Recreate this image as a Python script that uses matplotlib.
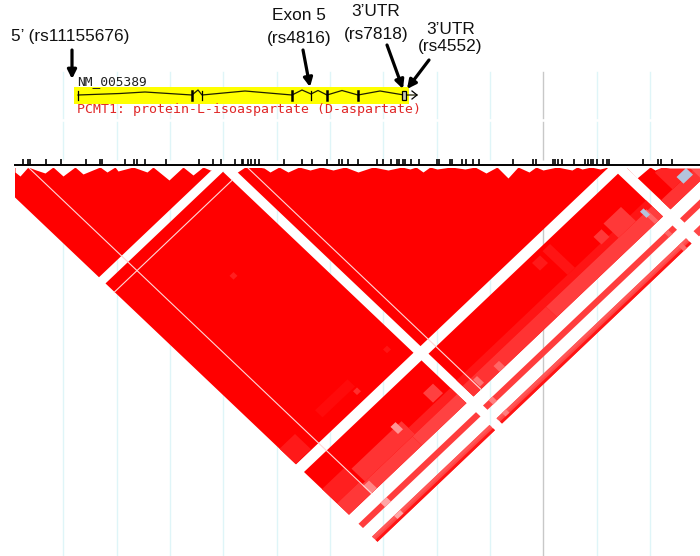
import matplotlib
matplotlib.use("Agg")
import matplotlib.pyplot as plt
from matplotlib.patches import Polygon, Rectangle

plt.rcParams['font.family'] = ['Liberation Sans', 'DejaVu Sans']

# marker ticks along the top of the LD plot
tick_x = [23, 28, 30, 46, 61, 86, 100, 102, 125, 134, 137, 145, 166, 199, 213, 221, 235, 242, 243,
          248, 251, 255, 259, 284, 302, 312, 327, 339, 342, 348, 358, 377, 383, 391, 397, 399, 403,
          405, 411, 419, 437, 439, 450, 452, 462, 466, 473, 479, 513, 533, 536, 553, 555, 558, 562,
          574, 585, 588, 591, 593, 597, 603, 607, 609, 643, 658, 661, 672]

grid_x = [63, 117, 170, 223, 277, 330, 383, 437, 490, 597, 650]
gray_x = [543]

# sawtooth top edge of the triangles
top_x = [15, 20, 28, 36, 45, 53, 63, 75, 83, 100, 107, 115, 118, 133, 147, 153, 169, 183, 193, 203, 210,
         222, 233, 245, 258, 264, 270, 279, 288, 299, 310, 321, 333, 345, 358, 373, 388, 402, 410, 416, 423,
         430, 437, 451, 465, 475, 486, 497, 508, 518, 529, 536, 543, 557, 572, 577, 582, 591, 600, 608,
         627, 637, 650, 655, 662, 670, 700]
top_y = [172, 176, 167, 170, 173, 167, 176, 167, 174, 167, 172, 167, 171, 167, 172, 167, 180, 167, 175, 167, 170,
         170, 175, 167, 167, 168, 172, 167, 172, 167, 170, 167, 170, 167, 172, 167, 170, 167, 169, 167, 172,
         167, 169, 167, 169, 167, 173, 167, 178, 167, 172, 167, 170, 167, 170, 167, 169, 167, 169, 167,
         168, 178, 167, 170, 167, 168, 168]

# LD blocks: left marker range, right marker range, D' shade
block_u0 = [-16, -16, 233, -16, 233, 627, -16, 233, 627, -16, 233, 627]
block_u1 = [219, 219, 612, 219, 612, 720, 219, 612, 720, 219, 612, 720]
block_v0 = [-16, 227, 233, 624, 624, 627, 733, 733, 733, 760, 760, 760]
block_v1 = [214, 608, 608, 714, 714, 714, 742, 742, 742, 771, 771, 771]
block_ld = [1, 1, 1, 1, 1, 1, .76, .76, .76, .72, .72, .72]

# lighter cells inside the blocks
cell_u0 = [-16, 60, 116, 118, 192, -16, 135, -16, 28, 35, 130, 186, 118, 28, 233, 233, 400, 455, 545, 521, 432,
           627, 650, 690, 250, 285, -16, 233, -16, 233, 28, 28, 244, 244, 596, 596, 596]
cell_u1 = [15, 125, 124, 126, 200, 28, 219, 28, 130, 135, 219, 206, 128, 40, 612, 400, 612, 470, 580, 537, 448,
           720, 720, 720, 258, 296, 219, 612, 219, 612, 40, 40, 252, 252, 603, 603, 603]
cell_v0 = [575, 570, 343, 588, 574, 660, 682, 690, 695, 668, 695, 660, 663, 698, 680, 692, 692, 630, 662, 666, 632,
           695, 660, 680, 696, 702, 767, 767, 760, 760, 733, 760, 733, 760, 690, 733, 760]
cell_v1 = [607, 585, 351, 596, 582, 690, 695, 714, 714, 695, 714, 680, 678, 714, 692, 714, 714, 680, 692, 682, 648,
           714, 695, 714, 710, 714, 771, 771, 764, 764, 742, 767, 742, 767, 714, 742, 771]
cell_ld = [.9, .96, .88, .82, .92, .88, .88, .78, .76, .8, .74, .75, .42, .48, .92, .8, .76, .92, .78, .78, .9,
           .8, .86, .68, .55, .6, .92, .92, .66, .66, .35, .35, .5, .5, .6, .6, .6]

# cells with no significant LD (drawn blue-grey)
blue_u0 = [667, 594]
blue_u1 = [686, 601]
blue_v0 = [686, 686]
blue_v1 = [700, 699]

# thin white lines: left marker / right marker
line_u = [29, 248]
line_u_v0 = [29, 248]
line_u_v1 = [714, 714]
line_v = [245]
line_v_u0 = [-16]
line_v_u1 = [219]

# gene model
gene_x = [78, 120, 145, 192, 198, 202, 245, 292, 302, 311, 318, 327, 342, 358, 380, 404, 417]
gene_y = [95, 93.5, 92, 95, 90, 95, 91, 95, 90, 94, 90.5, 95, 90.5, 95, 91, 95, 95]
exon_x = [78, 192, 202, 292, 311, 327, 358]
exon_w = [.9, 1.8, .9, 1.8, .9, 1.8, 1.8]

# label, x, y
label_txt = ["5\u2019 (rs11155676)", "Exon 5", "(rs4816)", "3\u2019UTR", "(rs7818)", "3\u2019UTR", "(rs4552)"]
label_x = [70, 299, 299, 376, 376, 451, 450]
label_y = [37, 16, 38, 12, 34, 29, 47]

# arrow tail x, y, head x, y
arrow_x0 = [72, 303, 387, 429]
arrow_y0 = [50, 50, 45, 60]
arrow_x1 = [72, 310, 403, 407]
arrow_y1 = [79, 87, 89, 89]

Y0 = 168
S = 0.95


def diamond(u0, u1, v0, v1):
    # corners of a block in picture coordinates, cut at the u=v diagonal
    pts = [(u0, max(v0, u0)), (u0, v1), (u1, v1), (u1, max(v0, u1))]
    if v0 > u0 and v0 < u1:
        pts = [(u0, v0), (u0, v1), (u1, v1), (u1, u1), (v0, v0)]
    elif v0 < u1:
        pts = [(u0, u0), (u0, v1), (min(u1, v1), v1)]
        if u1 < v1:
            pts = [(u0, max(v0, u0)), (u0, v1), (u1, v1), (u1, max(v0, u1))]
    return [((u + v) / 2, Y0 + S * (v - u) / 2) for u, v in pts]


def ld_color(ld):
    c = 1 - ld
    return (1, c, c)


fig = plt.figure(figsize=(7, 5.56), dpi=100)
ax = fig.add_axes([0, 0, 1, 1])
ax.set_xlim(0, 700)
ax.set_ylim(556, 0)
ax.axis('off')

# background grid, broken just under the gene track
for x in grid_x:
    ax.plot([x, x], [72, 118], color='#dff5f8', lw=1, zorder=1)
    ax.plot([x, x], [122, 556], color='#dff5f8', lw=1, zorder=1)
for x in gray_x:
    ax.plot([x, x], [72, 118], color='#c8c8c8', lw=1, zorder=1)
    ax.plot([x, x], [122, 556], color='#c8c8c8', lw=1, zorder=1)

clip = Rectangle((15, 160), 685, 396, transform=ax.transData)

for i in range(len(block_ld)):
    p = Polygon(diamond(block_u0[i], block_u1[i], block_v0[i], block_v1[i]),
                fc=ld_color(block_ld[i]), ec='none', zorder=2)
    ax.add_patch(p)
    p.set_clip_path(clip)
for i in range(len(cell_ld)):
    p = Polygon(diamond(cell_u0[i], cell_u1[i], cell_v0[i], cell_v1[i]),
                fc=ld_color(cell_ld[i]), ec='none', zorder=3)
    ax.add_patch(p)
    p.set_clip_path(clip)
for i in range(len(blue_u0)):
    p = Polygon(diamond(blue_u0[i], blue_u1[i], blue_v0[i], blue_v1[i]),
                fc='#b4c4dc', ec='none', zorder=4)
    ax.add_patch(p)
    p.set_clip_path(clip)

# thin white marker lines
for i in range(len(line_u)):
    xs = [(line_u[i] + line_u_v0[i]) / 2, (line_u[i] + line_u_v1[i]) / 2]
    ys = [Y0 + S * (line_u_v0[i] - line_u[i]) / 2, Y0 + S * (line_u_v1[i] - line_u[i]) / 2]
    ax.plot(xs, ys, color='#ffd8d8', lw=0.8, zorder=5)
for i in range(len(line_v)):
    xs = [(line_v_u0[i] + line_v[i]) / 2, (line_v_u1[i] + line_v[i]) / 2]
    ys = [Y0 + S * (line_v[i] - line_v_u0[i]) / 2, Y0 + S * (line_v[i] - line_v_u1[i]) / 2]
    ax.plot(xs, ys, color='#ffd8d8', lw=0.8, zorder=5)

# white mask above the sawtooth, then baseline and ticks
ax.fill_between(top_x, 160, top_y, color='white', lw=0, zorder=6)
ax.plot([15, 700], [165, 165], color='black', lw=1.4, zorder=7)
ax.vlines(tick_x, 159, 165, color='black', lw=1.2, zorder=7)

# gene track
ax.add_patch(Rectangle((74, 87), 335, 17, fc='#ffff00', ec='none', zorder=2))
ax.plot(gene_x, gene_y, color='#202000', lw=0.9, zorder=3)
for x, w in zip(exon_x, exon_w):
    ax.plot([x, x], [90.5, 100], color='black', lw=w, zorder=4)
ax.add_patch(Rectangle((402, 91), 4, 9, fc='#c8c8b0', ec='black', lw=0.9, zorder=4))
ax.plot([412, 417, 412], [91, 95, 99], color='black', lw=0.9, zorder=4)
ax.text(77, 82, "NM_005389", family='DejaVu Sans Mono', fontsize=9.3, color='#222222', ha='left', va='center')
ax.text(77, 109, "PCMT1: protein-L-isoaspartate (D-aspartate)", family='DejaVu Sans Mono', fontsize=9.5,
        color='#e02828', ha='left', va='center')

for t, x, y in zip(label_txt, label_x, label_y):
    ax.text(x, y, t, fontsize=12.4, color='#111111', ha='center', va='center')
for i in range(len(arrow_x0)):
    ax.annotate("", xy=(arrow_x1[i], arrow_y1[i]), xytext=(arrow_x0[i], arrow_y0[i]),
                arrowprops=dict(arrowstyle='-|>', color='black', lw=2.3, mutation_scale=13,
                                shrinkA=0, shrinkB=0), zorder=8)

fig.savefig("out.png", dpi=100)
